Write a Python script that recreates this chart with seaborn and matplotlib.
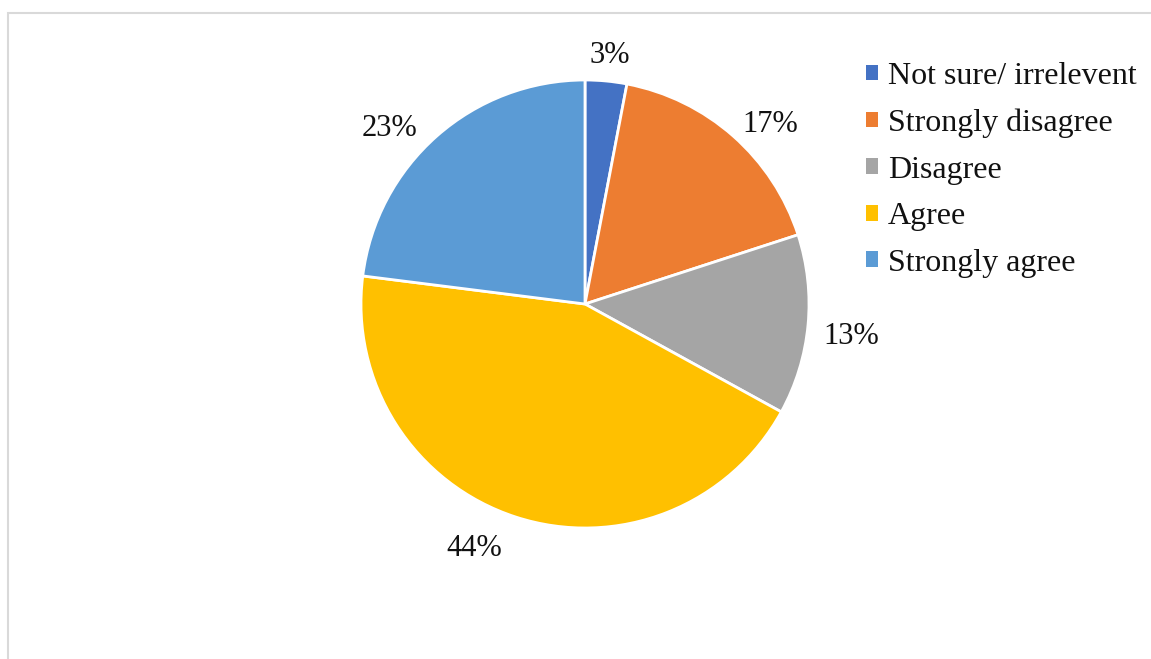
import matplotlib
matplotlib.use("Agg")
import numpy as np
import matplotlib.pyplot as plt
import seaborn as sns
from matplotlib.patches import Rectangle, Patch

categories = ["Not sure/ irrelevent", "Strongly disagree", "Disagree", "Agree", "Strongly agree"]
values = [3, 17, 13, 44, 23]
colors = ["#4472C4", "#ED7D31", "#A5A5A5", "#FFC000", "#5B9BD5"]

# label layout (radial distance in radii, angular nudge in degrees)
label_dist = [1.115, 1.15, 1.196, 1.201, 1.173]
label_nudge = [-0.4, -4.5, -1.5, -6.4, 6.8]

sns.set_theme(style="white")
plt.rcParams['font.family'] = ['Liberation Serif', 'DejaVu Serif']

W, H = 1151, 659
fig = plt.figure(figsize=(W / 100, H / 100), dpi=100)
fig.patch.set_facecolor("white")

# chart frame
fig.patches.append(Rectangle((8 / W, -0.1), 1.2, 1 - 13 / H + 0.1, transform=fig.transFigure,
                             fill=False, edgecolor="#D9D9D9", linewidth=1.5, zorder=0))

cx, cy, r = 585, 304, 224
ax = fig.add_axes([(cx - r) / W, (H - cy - r) / H, 2 * r / W, 2 * r / H])
palette = sns.color_palette(colors)
wedges, _ = ax.pie(
    values, colors=palette, startangle=90, counterclock=False,
    wedgeprops=dict(edgecolor="white", linewidth=2), radius=1)
total = sum(values)
for w, v, d, n in zip(wedges, values, label_dist, label_nudge):
    ang = np.deg2rad((w.theta1 + w.theta2) / 2 + n)
    ax.text(d * np.cos(ang), d * np.sin(ang), f"{100 * v / total:.0f}%",
            ha="center", va="center", fontsize=22, color="#111111")
ax.set_xlim(-1, 1)
ax.set_ylim(-1, 1)
ax.set_aspect("equal")
ax.axis("off")

handles = [Patch(facecolor=c, edgecolor="none") for c in palette]
leg = fig.legend(handles, categories, loc="upper left", bbox_to_anchor=(866 / W, 1 - 62 / H),
                 frameon=False, fontsize=23, handlelength=0.38, handleheight=0.38,
                 handletextpad=0.3, labelspacing=0.55, borderaxespad=0, borderpad=0)
for t in leg.get_texts():
    t.set_color("#111111")

fig.savefig("out.png", dpi=100)
